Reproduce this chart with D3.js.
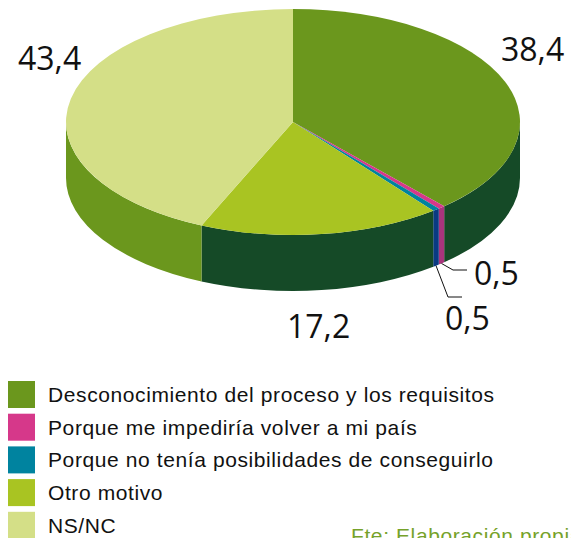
<!DOCTYPE html>
<html>
<head>
<meta charset="utf-8">
<script src="https://cdn.jsdelivr.net/npm/d3@7"></script>
<style>
  body { margin: 0; background: #fff; }
  svg { display: block; }
  .lbl { font-family: "Open Sans", sans-serif; font-size: 32px; fill: #111; }
  .leg { font-family: "Liberation Sans", Arial, sans-serif; font-size: 21px; letter-spacing: 0.6px; fill: #111; }
  .src { font-family: "Liberation Sans", Arial, sans-serif; font-size: 21px; letter-spacing: 0.6px; fill: #76a22a; }
</style>
</head>
<body>
<div id="chart"></div>
<script>
// data
const categories = [
  "Desconocimiento del proceso y los requisitos",
  "Porque me impediría volver a mi país",
  "Porque no tenía posibilidades de conseguirlo",
  "Otro motivo",
  "NS/NC"
];
const values = [38.4, 0.5, 0.5, 17.2, 43.4];
const topColors = ["#6b971d", "#d6388a", "#00839f", "#a9c422", "#d4df87"];
const sideColors = ["#154a27", "#a8347c", "#0a3a82", "#154a27", "#6b971d"];

// layout
const W = 571, H = 538;
const cx = 293, cy = 122;   // centre of top face
const rx = 227, ry = 113;   // ellipse radii
const depth = 56;           // thickness of the disc
const k = ry / rx;

// where Excel put the value labels (text start, baseline)
const labelAt = [[501, 61], [474, 285], [445, 330], [287, 338], [18, 70]];
// elbow + end of leader lines for the tiny slices
const leaderAt = [null, [[453, 270], [467, 270]], [[448, 297], [462, 297]], null, null];

const fmt = d3.formatLocale({decimal: ",", thousands: ".", grouping: [3], currency: ["", ""]}).format(".1f");

const svg = d3.select("#chart").append("svg")
  .attr("width", W)
  .attr("height", H);

const pie = d3.pie().sort(null).value(d => d)(values);

// point on the top ellipse for a pie angle (clockwise from 12 o'clock)
function pt(a, dy) {
  return [cx + rx * Math.sin(a), cy - ry * Math.cos(a) + (dy || 0)];
}

// side walls: only the front half (pi/2 .. 3pi/2) can be seen
const walls = svg.append("g");
pie.forEach(function(p, i) {
  const a0 = Math.max(p.startAngle, Math.PI / 2);
  const a1 = Math.min(p.endAngle, 3 * Math.PI / 2);
  if (a1 <= a0) return;
  const large = (a1 - a0) > Math.PI ? 1 : 0;
  const s = pt(a0), e = pt(a1), eb = pt(a1, depth), sb = pt(a0, depth);
  // elliptical arcs are written by hand since d3.path only knows circles
  const d = `M${s[0]},${s[1]} A${rx},${ry} 0 ${large} 1 ${e[0]},${e[1]} L${eb[0]},${eb[1]} A${rx},${ry} 0 ${large} 0 ${sb[0]},${sb[1]} Z`;
  walls.append("path")
    .attr("d", d)
    .attr("fill", sideColors[i]);
});

// top face: normal d3.arc squashed vertically
const arc = d3.arc().innerRadius(0).outerRadius(rx);
svg.append("g")
  .attr("transform", `translate(${cx},${cy}) scale(1,${k})`)
  .selectAll("path")
  .data(pie)
  .enter()
  .append("path")
  .attr("d", arc)
  .attr("fill", (d, i) => topColors[i]);

// leader lines for the small slices, start at bottom edge of their wall
pie.forEach(function(p, i) {
  if (!leaderAt[i]) return;
  const mid = (p.startAngle + p.endAngle) / 2;
  const start = pt(mid, depth);
  svg.append("path")
    .attr("d", d3.line()([start, leaderAt[i][0], leaderAt[i][1]]))
    .attr("fill", "none")
    .attr("stroke", "#111")
    .attr("stroke-width", 1);
});

// value labels
svg.selectAll(".lbl")
  .data(values)
  .enter()
  .append("text")
  .attr("class", "lbl")
  .attr("x", (d, i) => labelAt[i][0])
  .attr("y", (d, i) => labelAt[i][1])
  .text(d => fmt(d));

// legend
const legStep = 32.7;
const leg = svg.append("g").attr("transform", "translate(8,381)");
const rows = leg.selectAll("g")
  .data(categories)
  .enter()
  .append("g")
  .attr("transform", (d, i) => `translate(0,${i * legStep})`);
rows.append("rect")
  .attr("width", 27)
  .attr("height", 27)
  .attr("fill", (d, i) => topColors[i]);
rows.append("text")
  .attr("class", "leg")
  .attr("x", 40)
  .attr("y", 21)
  .text(d => d);

// source note, cut by the bottom/right edge like in the original
svg.append("text")
  .attr("class", "src")
  .attr("x", 351)
  .attr("y", 543)
  .text("Fte: Elaboración propia");
</script>
</body>
</html>
